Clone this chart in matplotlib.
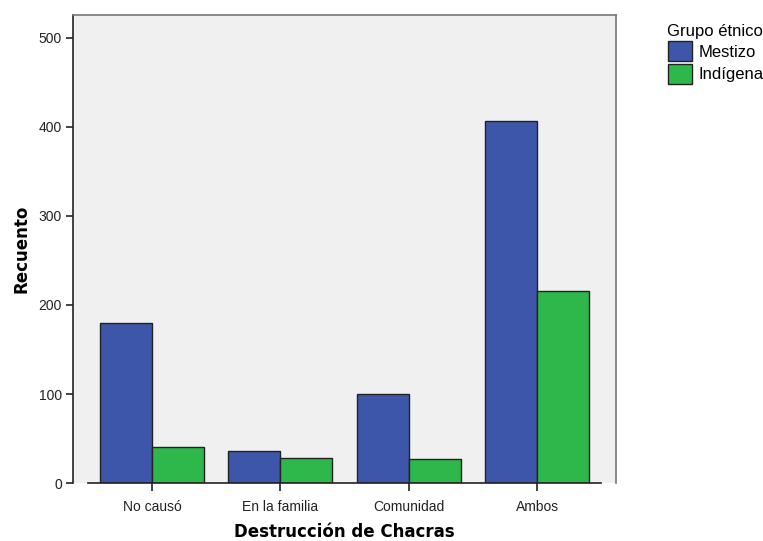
import matplotlib.pyplot as plt
from matplotlib.patches import Patch
import numpy as np

plt.rcParams['font.family'] = ['Liberation Sans', 'DejaVu Sans']

# Data
categories = ['No causó', 'En la familia', 'Comunidad', 'Ambos']
mestizo = [180, 36, 100, 407]
indigena = [40, 28, 27, 216]
yticks = [0, 100, 200, 300, 400, 500]

blue = '#3D56AA'
green = '#2EB84C'

fig = plt.figure(figsize=(7.63, 5.41), dpi=100)
ax = fig.add_axes([0.0957, 0.1072, 0.711, 0.8651])
ax.set_facecolor('#F0F0F0')

x = np.arange(len(categories))
w = 0.405
ax.bar(x - w / 2, mestizo, w, color=blue, edgecolor='#222222', linewidth=1, zorder=3)
ax.bar(x + w / 2, indigena, w, color=green, edgecolor='#222222', linewidth=1, zorder=3)

ax.set_xlim(-0.616, 3.61)
ax.set_ylim(0, 500 * 468 / 445)

# Baseline at zero (does not span the full width)
ax.plot([-0.5, 3.5], [0, 0], color='#222222', linewidth=1.2, zorder=4, clip_on=False)

for side in ['top', 'right']:
    ax.spines[side].set_color('#777777')
    ax.spines[side].set_linewidth(1.2)
ax.spines['bottom'].set_visible(False)
ax.spines['left'].set_color('#222222')
ax.spines['left'].set_linewidth(1.2)

ax.set_yticks(yticks)
ax.set_xticks(x)
ax.set_xticklabels(categories)
ax.tick_params(axis='both', labelsize=10, color='#222222', width=1.2, labelcolor='#222222')
ax.tick_params(axis='x', length=6, pad=6)
ax.tick_params(axis='y', length=5, pad=3)

ax.set_xlabel('Destrucción de Chacras', fontsize=12, fontweight='bold', labelpad=7,
              family='DejaVu Sans')
ax.set_ylabel('Recuento', fontsize=12, fontweight='bold', labelpad=6, family='DejaVu Sans')

handles = [Patch(facecolor=blue, edgecolor='#222222', label='Mestizo'),
           Patch(facecolor=green, edgecolor='#222222', label='Indígena')]
leg = fig.legend(handles=handles, title='Grupo étnico', loc='upper left',
                 bbox_to_anchor=(0.866, 0.968), frameon=False, fontsize=12,
                 title_fontsize=12, handlelength=1.4, handleheight=1.45,
                 handletextpad=0.4, labelspacing=0.15, borderaxespad=0)
leg._legend_box.align = 'right'

fig.savefig('out.png', dpi=100)
